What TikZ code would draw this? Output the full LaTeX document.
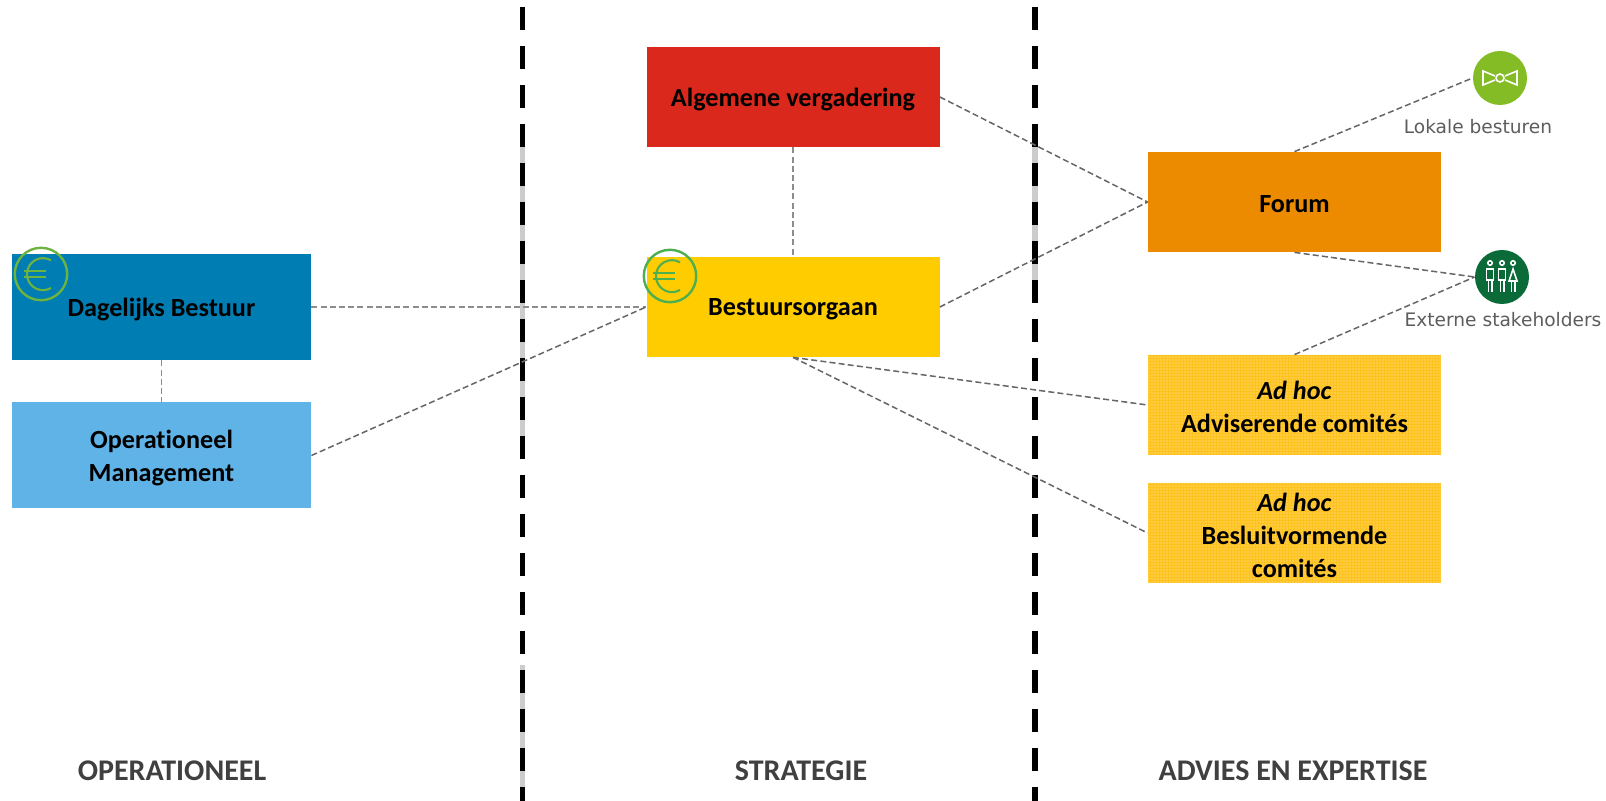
\documentclass[tikz,border=0pt]{standalone}
\usepackage{fontspec}
\setmainfont[Ligatures=NoCommon]{Carlito}
\newfontfamily\labelfont{DejaVu Sans}
\usetikzlibrary{patterns.meta}
\definecolor{cDB}{HTML}{007DB3}
\definecolor{cOM}{HTML}{5FB3E6}
\definecolor{cAV}{HTML}{DA291C}
\definecolor{cBO}{HTML}{FFCC00}
\definecolor{cFO}{HTML}{EC8B00}
\definecolor{cAH}{HTML}{FFC320}
\definecolor{cLB}{HTML}{84BC26}
\definecolor{cES}{HTML}{0B6B38}
\definecolor{cEU}{HTML}{6DB33F}
\definecolor{cEV}{HTML}{4CAF50}
\definecolor{cCN}{HTML}{666666}
\definecolor{cCP}{HTML}{8C8C8C}
\definecolor{cTX}{HTML}{404040}
\newcommand{\lowered}[1]{\raisebox{-1.1pt}[\height][\depth]{#1}}
\tikzset{
  x=0.5pt,y=-0.5pt,
  orgbox/.style={minimum width=146.5pt,minimum height=50pt,inner sep=0pt,align=center,text=black,
    font=\fontsize{13.1}{16.6}\selectfont\bfseries},
  adhoc/.style={orgbox,fill=cAH,postaction={pattern={Dots[radius=0.28pt,distance=1.5pt]},pattern color=white!65!cAH}},
  link/.style={draw=cCN,line width=0.75pt,dash pattern=on 3pt off 1.6pt},
  palelink/.style={link,draw=cCP,line width=0.95pt},
  divider/.style={draw=black,line width=2.6pt,dash pattern=on 11.5pt off 8pt},
  dividerghost/.style={draw=black!20,line width=2.6pt},
  column/.style={text=cTX,inner sep=0pt,font=\fontsize{15}{17}\selectfont\bfseries},
  grouplabel/.style={text=cTX!85!white,inner sep=0pt,font=\fontsize{9.3}{11}\labelfont},
  badge/.style={circle,minimum size=27pt,inner sep=0pt},
  euroring/.style={circle,minimum size=26.2pt,inner sep=0pt,line width=1.2pt},
  iconline/.style={draw=white,line width=0.8pt},
}
\newcommand{\euroglyph}[2]{%
  \draw[#2,line width=1.05pt] (#1)++(10,14) arc[start angle=60,end angle=300,radius=16];
  \draw[#2,line width=1.05pt] (#1)++(-17,-3) -- ++(22,0) (#1)++(-17,3) -- ++(22,0);
}
\begin{document}
\begin{tikzpicture}
\useasboundingbox (0,0) rectangle (1606,801);
\fill[white] (0,0) rectangle (1606,801);

\coordinate (d1a) at (522.5,7);
\coordinate (d1b) at (522.5,801);
\coordinate (d2a) at (1035,7);
\coordinate (d2b) at (1035,801);
\coordinate (g1a) at (522.5,130);
\coordinate (g1b) at (522.5,440);
\coordinate (g1c) at (522.5,665);
\coordinate (g2a) at (1035,125);
\coordinate (g2b) at (1035,290);
\draw[dividerghost] (g1a) -- (g1b);
\draw[dividerghost] (g1c) -- (d1b);
\draw[dividerghost] (g2a) -- (g2b);
\draw[divider] (d1a) -- (d1b);
\draw[divider] (d2a) -- (d2b);

\node[orgbox,fill=cDB,minimum width=149.5pt,minimum height=53pt] (db) at (161.5,307) {\lowered{Dagelijks Bestuur}};
\node[orgbox,fill=cOM,minimum width=149.5pt,minimum height=53pt] (om) at (161.5,455.5) {\lowered{Operationeel}\\\lowered{Management}};
\node[orgbox,fill=cAV] (av) at (793,97) {\lowered{Algemene vergadering}};
\node[orgbox,fill=cBO] (bo) at (793,307) {\lowered{Bestuursorgaan}};
\node[orgbox,fill=cFO] (fo) at (1294.5,202) {\lowered{Forum}};
\node[adhoc] (ah1) at (1294.5,405) {\lowered{\textit{Ad hoc}}\\\lowered{Adviserende comités}};
\node[adhoc] (ah2) at (1294.5,533) {\lowered{\textit{Ad hoc}}\\\lowered{Besluitvormende}\\\lowered{comités}};

\node[badge,fill=cLB] (lok) at (1500,78) {};
\node[badge,fill=cES] (ext) at (1502,277) {};
\node[grouplabel] (loklab) at (1478,127) {Lokale besturen};
\node[grouplabel] (extlab) at (1503,320) {Externe stakeholders};

\draw[palelink] (db.east) -- (bo.west);
\draw[link] (om.east) -- (bo.west);
\draw[palelink] (db.south) -- (om.north);
\draw[palelink] (av.south) -- (bo.north);
\draw[link] (av.east) -- (fo.west);
\draw[link] (bo.east) -- (fo.west);
\draw[link] (fo.north) -- (lok.west);
\draw[link] (fo.south) -- (ext.west);
\draw[link] (ah1.north) -- (ext.west);
\draw[link] (bo.south) -- (ah1.west);
\draw[link] (bo.south) -- (ah2.west);

% bow tie
\draw[iconline] (lok.center)++(-5,-2) -- ++(-12,-5) -- ++(0,14) -- ++(12,-5);
\draw[iconline] (lok.center)++(5,-2) -- ++(12,-5) -- ++(0,14) -- ++(-12,-5);
\draw[iconline] (lok.center) circle[radius=4];
% three people
\foreach \dx in {-12,0}{
  \draw[iconline] (ext.center)++(\dx,-14) circle[radius=2.2];
  \draw[iconline] (ext.center)++(\dx-3.5,3) -- ++(0,-11) -- ++(7,0) -- ++(0,11) -- cycle;
  \draw[iconline] (ext.center)++(\dx-1.7,3) -- ++(0,12) (ext.center)++(\dx+1.7,3) -- ++(0,12);
}
\draw[iconline] (ext.center)++(11,-14) circle[radius=2.2];
\draw[iconline] (ext.center)++(11,-8) -- ++(-4,12) -- ++(8,0) -- cycle;
\draw[iconline] (ext.center)++(9.3,4) -- ++(0,11) (ext.center)++(12.7,4) -- ++(0,11);

% euro marks
\node[euroring,draw=cEU] (eu1) at (41,274) {};
\node[euroring,draw=cEV] (eu2) at (670,276) {};
\euroglyph{eu1}{cEU}
\euroglyph{eu2}{cEV}

\node[column] (c1) at (172,771) {OPERATIONEEL};
\node[column] (c2) at (801,771) {STRATEGIE};
\node[column] (c3) at (1293,771) {ADVIES EN EXPERTISE};
\end{tikzpicture}
\end{document}
